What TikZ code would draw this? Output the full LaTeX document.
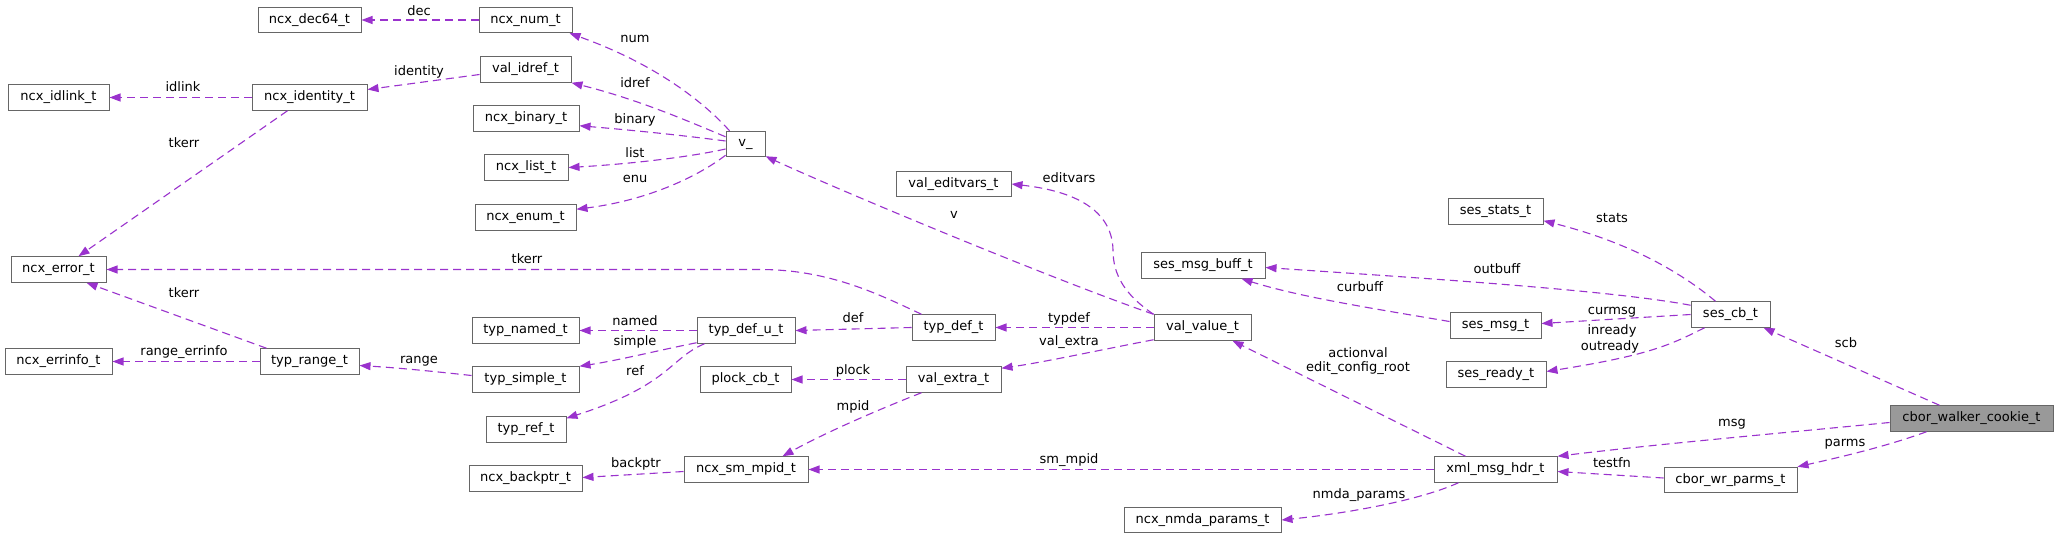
\documentclass[tikz,border=0pt]{standalone}
\usepackage{fontspec}
\setmainfont{DejaVu Sans}
\usetikzlibrary{arrows.meta}
\definecolor{edgec}{HTML}{9A32CD}
\definecolor{boxc}{HTML}{666666}
\definecolor{hil}{HTML}{999999}
\tikzset{
  box/.style={draw=boxc, line width=1pt, fill=white, inner sep=0pt, minimum height=25.5pt, font=\fontsize{13}{15}\selectfont},
  lbl/.style={inner sep=0pt, font=\fontsize{13}{15}\selectfont, text height=9.5pt, text depth=2.7pt},
  rel/.style={draw=edgec, line width=1.1pt, dash pattern=on 8pt off 5pt, -{Triangle[length=11pt,width=8pt]}},
}
\begin{document}
\begin{tikzpicture}[x=1pt,y=-1pt]
\useasboundingbox[fill=white] (0,0) rectangle (2059,538);
% nodes
\node[box, minimum width=103pt] (dec64) at (309.5,20) {ncx\_dec64\_t};
\node[box, minimum width=93pt] (num) at (525.5,20) {ncx\_num\_t};
\node[box, minimum width=91pt] (idref) at (525.5,69.5) {val\_idref\_t};
\node[box, minimum width=106pt] (binary) at (526,118.5) {ncx\_binary\_t};
\node[box, minimum width=84pt] (list) at (526,167.5) {ncx\_list\_t};
\node[box, minimum width=101pt] (enum) at (525.5,217.5) {ncx\_enum\_t};
\node[box, minimum width=39pt] (v) at (745.5,144) {v\_};
\node[box, minimum width=101pt] (idlink) at (58.5,97.5) {ncx\_idlink\_t};
\node[box, minimum width=115pt] (identity) at (309.5,97.5) {ncx\_identity\_t};
\node[box, minimum width=95pt] (error) at (58.5,269.5) {ncx\_error\_t};
\node[box, minimum width=107pt] (errinfo) at (58.5,361.5) {ncx\_errinfo\_t};
\node[box, minimum width=99pt] (range) at (309.5,361.5) {typ\_range\_t};
\node[box, minimum width=107pt] (named) at (525.5,330.5) {typ\_named\_t};
\node[box, minimum width=107pt] (simple) at (525.5,379.5) {typ\_simple\_t};
\node[box, minimum width=80pt] (tref) at (526,429.5) {typ\_ref\_t};
\node[box, minimum width=113pt] (backptr) at (525.5,478.5) {ncx\_backptr\_t};
\node[box, minimum width=98pt] (defu) at (746,330.5) {typ\_def\_u\_t};
\node[box, minimum width=91pt] (plock) at (745.5,379.5) {plock\_cb\_t};
\node[box, minimum width=124pt] (smmpid) at (746,469.5) {ncx\_sm\_mpid\_t};
\node[box, minimum width=83pt] (typdef) at (953.5,327.5) {typ\_def\_t};
\node[box, minimum width=95pt] (vextra) at (953.5,379.5) {val\_extra\_t};
\node[box, minimum width=115pt] (editvars) at (953.5,184) {val\_editvars\_t};
\node[box, minimum width=97pt] (value) at (1202.5,327.5) {val\_value\_t};
\node[box, minimum width=157pt] (nmda) at (1202.5,520) {ncx\_nmda\_params\_t};
\node[box, minimum width=124pt] (buff) at (1203,265.5) {ses\_msg\_buff\_t};
\node[box, minimum width=95pt] (stats) at (1495.5,211.5) {ses\_stats\_t};
\node[box, minimum width=91pt] (sesmsg) at (1495.5,325.5) {ses\_msg\_t};
\node[box, minimum width=100pt] (ready) at (1496,374.5) {ses\_ready\_t};
\node[box, minimum width=123pt] (xml) at (1495.5,469.5) {xml\_msg\_hdr\_t};
\node[box, minimum width=79pt] (cb) at (1730.5,314.5) {ses\_cb\_t};
\node[box, minimum width=133pt] (parms) at (1730.5,480) {cbor\_wr\_parms\_t};
\node[box, fill=hil, minimum width=163pt] (cookie) at (1971.5,418.5) {cbor\_walker\_cookie\_t};
% edges
\draw[rel] ([xshift=4pt]v.north west) .. controls (700,98) and (650,62) .. ([xshift=-3pt]num.south east);
\draw[rel] ([yshift=-6pt]v.north west) .. controls (690,122) and (640,100) .. (idref.south east);
\draw[rel] ([yshift=3pt]v.west) .. controls (680,135) and (630,130) .. ([yshift=6pt]binary.south east);
\draw[rel] ([yshift=-5pt]v.west) .. controls (690,157) and (630,164) .. (list.east);
\draw[rel] ([yshift=2pt]v.south west) .. controls (700,175) and (650,200) .. ([yshift=-5pt]enum.north east);
\draw[rel] (value.north west) .. controls (1060,282) and (850,195) .. ([yshift=1pt]v.south east);
\draw[rel] ([xshift=10pt]typdef.north west) .. controls (880,295) and (830,269.5) .. (760,269.5) -- (error.east);
\draw[rel] (value.north west) .. controls (1125,295) and (1113,275) .. (1113,250) .. controls (1112,205) and (1065,190) .. (editvars.east);
\draw[rel] (value.west) -- (typdef.east);
\draw[rel] ([yshift=1pt]value.south west) .. controls (1100,350) and (1045,362) .. ([yshift=-2pt]vextra.north east);
\draw[rel] (typdef.west) -- (defu.east);
\draw[rel] (defu.west) -- (named.east);
\draw[rel] ([yshift=1pt]defu.south west) .. controls (660,350) and (620,360) .. (simple.north east);
\draw[rel] ([xshift=8pt]defu.south west) .. controls (670,358) and (670,385) .. ([yshift=-2pt]tref.north east);
\draw[rel] ([yshift=4pt]simple.west) .. controls (430,371) and (400,368) .. ([yshift=-4pt]range.east);
\draw[rel] (range.west) -- (errinfo.east);
\draw[rel] ([xshift=7pt]range.north west) -- ([xshift=-20pt]error.south east);
\draw[rel] ([xshift=36pt]identity.south west) -- ([xshift=-28pt]error.north east);
\draw[rel] (identity.west) -- (idlink.east);
\draw[rel] ([yshift=-5pt]idref.west) -- ([yshift=8pt]identity.east);
\draw[rel] (num.west) -- (dec64.east);
\draw[rel] (vextra.west) -- (plock.east);
\draw[rel] ([xshift=16pt]vextra.south west) .. controls (890,405) and (830,430) .. ([xshift=-26pt]smmpid.north east);
\draw[rel] ([yshift=-2pt]smmpid.west) -- ([yshift=1pt]backptr.east);
\draw[rel] (xml.west) -- (smmpid.east);
\draw[rel] ([xshift=32pt]xml.north west) -- ([xshift=-19pt]value.south east);
\draw[rel] ([xshift=25pt]xml.south west) .. controls (1420,500) and (1350,513) .. (nmda.east);
\draw[rel] ([yshift=-4pt]cb.north west) .. controls (1610,290) and (1420,278) .. ([yshift=-2pt]buff.east);
\draw[rel] ([yshift=4pt]sesmsg.west) .. controls (1370,308) and (1300,297) .. ([xshift=-24pt]buff.south east);
\draw[rel] (cb.west) -- ([yshift=2pt]sesmsg.east);
\draw[rel] ([xshift=14pt]cb.south west) .. controls (1670,345) and (1650,355) .. ([yshift=3pt]ready.east);
\draw[rel] ([xshift=25pt]cb.north west) .. controls (1690,280) and (1640,245) .. ([yshift=4pt]stats.south east);
\draw[rel] ([xshift=50pt]cookie.north west) -- ([xshift=-7pt]cb.south east);
\draw[rel] ([yshift=-4pt]cookie.west) .. controls (1750,436) and (1650,445) .. (xml.north east);
\draw[rel] ([xshift=37pt]cookie.south west) .. controls (1890,445) and (1850,455) .. (parms.north east);
\draw[rel] ([yshift=2pt]parms.west) -- ([yshift=-2pt]xml.east);
% labels
\node[lbl] (l1) at (419,12) {dec};
\node[lbl] (l2) at (183,88) {idlink};
\node[lbl] (l3) at (419,72) {identity};
\node[lbl] (l4) at (184,144) {tkerr};
\node[lbl] (l5) at (184,294) {tkerr};
\node[lbl] (l6) at (184,352) {range\_errinfo};
\node[lbl] (l7) at (419,360) {range};
\node[lbl] (l8) at (635,39) {num};
\node[lbl] (l9) at (635,84) {idref};
\node[lbl] (l10) at (635,120) {binary};
\node[lbl] (l11) at (635,154) {list};
\node[lbl] (l12) at (635,179) {enu};
\node[lbl] (l13) at (954,215) {v};
\node[lbl] (l14) at (527,260) {tkerr};
\node[lbl] (l15) at (1069,179) {editvars};
\node[lbl] (l16) at (635,322) {named};
\node[lbl] (l17) at (635,342) {simple};
\node[lbl] (l18) at (635,372) {ref};
\node[lbl] (l19) at (853,319) {def};
\node[lbl] (l20) at (853,371) {plock};
\node[lbl] (l21) at (853,407) {mpid};
\node[lbl] (l22) at (636,464) {backptr};
\node[lbl] (l23) at (1069,319) {typdef};
\node[lbl] (l24) at (1069,342) {val\_extra};
\node[lbl] (l25) at (1069,460) {sm\_mpid};
\node[lbl] (l26) at (1358,354) {actionval};
\node[lbl] (l27) at (1358,368) {edit\_config\_root};
\node[lbl] (l28) at (1359,495) {nmda\_params};
\node[lbl] (l29) at (1497,270) {outbuff};
\node[lbl] (l30) at (1360,288) {curbuff};
\node[lbl] (l31) at (1612,311) {curmsg};
\node[lbl] (l32) at (1612,331) {inready};
\node[lbl] (l33) at (1610,347) {outready};
\node[lbl] (l34) at (1612,219) {stats};
\node[lbl] (l35) at (1846,344) {scb};
\node[lbl] (l36) at (1732,423) {msg};
\node[lbl] (l37) at (1845,443) {parms};
\node[lbl] (l38) at (1612,464) {testfn};
\end{tikzpicture}
\end{document}
